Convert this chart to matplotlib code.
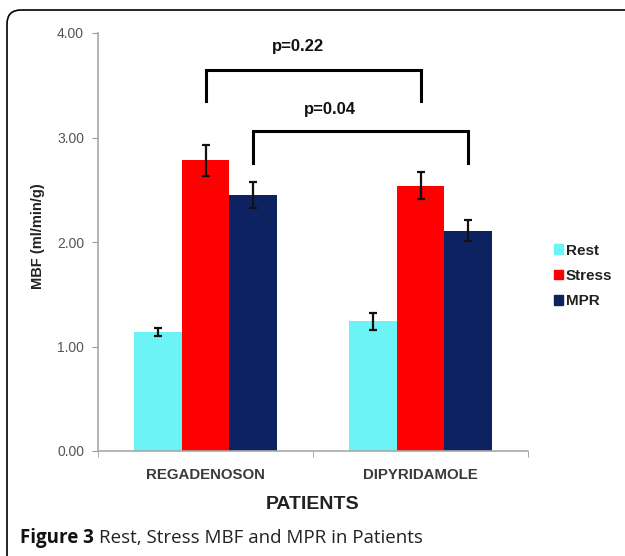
import numpy as np
import matplotlib
matplotlib.use('Agg')
import matplotlib.pyplot as plt
from matplotlib.patches import Patch, FancyBboxPatch

# data
groups = ['REGADENOSON', 'DIPYRIDAMOLE']
series = ['Rest', 'Stress', 'MPR']
values = {
    'Rest': [1.14, 1.24],
    'Stress': [2.78, 2.54],
    'MPR': [2.45, 2.11],
}
errors = {
    'Rest': [0.035, 0.08],
    'Stress': [0.15, 0.13],
    'MPR': [0.125, 0.10],
}
colors = {'Rest': '#6CF3F5', 'Stress': '#FF0000', 'MPR': '#0D2260'}
pvals = ['p=0.22', 'p=0.04']

plt.rcParams['font.family'] = ['Liberation Sans', 'DejaVu Sans']

W, H = 625, 556
fig = plt.figure(figsize=(W / 100, H / 100), dpi=100)
ax = fig.add_axes([98 / W, 1 - 451 / H, 430 / W, (451 - 33) / H])

x = np.arange(len(groups))
bw = 0.223
offsets = {'Rest': -bw, 'Stress': 0.0, 'MPR': bw}
for s in series:
    ax.bar(x + offsets[s], values[s], bw, color=colors[s], zorder=2)
    ax.errorbar(x + offsets[s], values[s], yerr=errors[s], fmt='none',
                ecolor='#111111', elinewidth=1.6, capsize=3, capthick=1.6, zorder=3)

ax.set_xlim(-0.5, len(groups) - 0.5)
ax.set_ylim(0, 4)
ax.set_yticks([0, 1, 2, 3, 4])
ax.set_yticklabels(['%.2f' % t for t in [0, 1, 2, 3, 4]], color='#555555', fontsize=10)
ax.set_xticks(x)
ax.set_xticklabels(groups, fontsize=10.8, color='#3a3a3a', fontweight='bold')
ax.set_xticks(np.arange(-0.5, len(groups)), minor=True)
ax.tick_params(axis='x', which='major', length=0, pad=12)
ax.tick_params(axis='x', which='minor', length=4, color='#999999')
ax.tick_params(axis='y', length=4, color='#999999', pad=6)
for sp in ['top', 'right']:
    ax.spines[sp].set_visible(False)
for sp in ['left', 'bottom']:
    ax.spines[sp].set_color('#A8A8A8')
    ax.spines[sp].set_linewidth(1.2)

ax.set_xlabel('PATIENTS', fontsize=14, fontweight='bold', color='#222222', labelpad=10)
ax.set_ylabel('MBF (ml/min/g)', fontsize=10.5, fontweight='bold', color='#222222')
ax.yaxis.set_label_coords(-0.123, 0.514)

# significance brackets (Stress vs Stress, MPR vs MPR)
brackets = [('Stress', 3.35, 3.646, 3.87, -0.07), ('MPR', 2.756, 3.06, 3.27, -0.145)]
for (s, ylow, yhigh, ytext, dx), p in zip(brackets, pvals):
    x0, x1 = x[0] + offsets[s], x[1] + offsets[s]
    ax.plot([x0, x0, x1, x1], [ylow, yhigh, yhigh, ylow], color='black', lw=2.2,
            clip_on=False, zorder=4, solid_joinstyle='miter')
    ax.text((x0 + x1) / 2 + dx, ytext, p,
            ha='center', va='center', fontsize=12, fontweight='bold', color='#111111')

handles = [Patch(color=colors[s], label=s) for s in series]
leg = fig.legend(handles=handles, loc='center left', bbox_to_anchor=(540 / W, 1 - 276 / H),
                 frameon=False, handlelength=0.6, handleheight=0.6, handletextpad=0.2,
                 labelspacing=0.75, prop={'weight': 'bold', 'size': 11})
for t in leg.get_texts():
    t.set_color('#222222')

# caption
cap1 = fig.text(20 / W, 1 - 538 / H, 'Figure 3', fontsize=13.5, fontweight='bold',
                family='Open Sans', va='center', color='#111111')
fig.canvas.draw()
bb = cap1.get_window_extent()
fig.text((bb.x1 + 5) / W, 1 - 538 / H, 'Rest, Stress MBF and MPR in Patients',
         fontsize=13.5, family='Open Sans', va='center', color='#222222')

# frame around the figure
frame = FancyBboxPatch((7, -40), 700, H - 10 + 40, boxstyle='round,pad=0,rounding_size=14',
                       transform=None, fill=False, edgecolor='black', lw=1.2)
fig.patches.append(frame)

fig.savefig('out.png', dpi=100)
